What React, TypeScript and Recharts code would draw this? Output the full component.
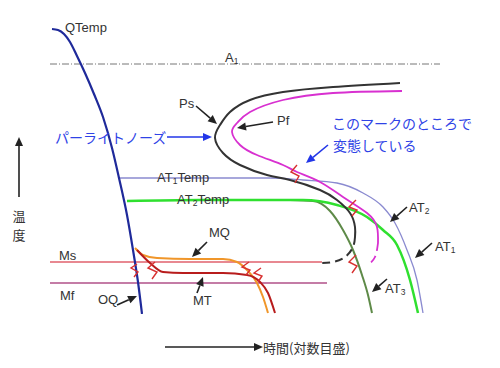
import {
  ComposedChart,
  Line,
  ReferenceDot,
  ReferenceLine,
  XAxis,
  YAxis,
} from "recharts";

// x = log time (arbitrary units), y = temperature (arbitrary units)
const qTemp = [[2, 285], [8, 284], [14, 280], [20, 272], [27, 258], [35, 241], [44, 220], [53, 197], [62, 166], [69, 136], [77, 99], [83, 64], [88, 32], [92, 0]];
const a1Line = [[0, 250], [392, 250]];
const msLine = [[0, 52], [272, 52]];
const mfLine = [[0, 31], [277, 31]];

const psCurve = [[350, 231], [283, 227], [233, 222], [200, 214], [180, 202], [170, 189], [165, 176], [173, 161], [190, 149], [217, 139], [240, 134], [270, 124], [287, 114], [300, 101], [305, 87], [305, 77]];
const psDashed = [[305, 77], [303, 67], [295, 57], [283, 52], [272, 51]];
const pfCurve = [[352, 223], [283, 221], [233, 214], [200, 202], [187, 191], [182, 182], [190, 169], [207, 159], [233, 149], [247, 142], [270, 132], [293, 117], [317, 101], [327, 87], [328, 71]];
const pfDashed = [[328, 71], [325, 57], [318, 49]];

const at1 = [[69, 136], [150, 136], [220, 136], [253, 134], [287, 131], [313, 121], [333, 107], [345, 91], [357, 64], [367, 34], [373, 1]];
const at2 = [[77, 113], [150, 114], [220, 114], [253, 114], [287, 109], [317, 97], [333, 84], [347, 69], [360, 34], [368, 1]];
const at3 = [[240, 114], [263, 113], [280, 103], [293, 84], [303, 64], [312, 39], [318, 19], [322, 1]];
const mq = [[85, 66], [93, 59], [107, 56], [140, 55], [173, 55], [187, 52], [197, 44], [207, 31], [213, 17], [218, 1]];
const mt = [[87, 64], [100, 51], [113, 42], [133, 41], [173, 41], [197, 39], [210, 32], [218, 21], [225, 1]];

// transformation marks
const zigzags = [
  [[247, 149], [241, 142], [249, 138], [245, 131]],
  [[306, 114], [299, 107], [307, 104], [302, 98]],
  [[306, 59], [299, 52], [307, 48], [302, 41]],
  [[87, 50], [81, 46], [88, 42], [84, 37]],
  [[105, 52], [98, 46], [107, 42], [102, 35]],
  [[199, 52], [192, 47], [200, 44], [196, 39]],
  [[211, 46], [204, 41], [212, 38], [208, 32]],
];

// arrows: from -> to
const blackArrows = [
  [[146, 208], [167, 190]],
  [[223, 192], [187, 186]],
  [[157, 72], [142, 57]],
  [[147, 21], [153, 37]],
  [[67, 9], [87, 18]],
  [[357, 107], [340, 92]],
  [[382, 71], [365, 56]],
  [[337, 35], [322, 22]],
  [[-31, 117], [-31, 177]],
  [[115, -33], [213, -33]],
];
const blueArrows = [
  [[117, 177], [162, 177]],
  [[278, 169], [256, 151]],
];

// [text, subscript, tail, x, y]
const labels: [string, string, string, number, number][] = [
  ["QTemp", "", "", 15, 287],
  ["A", "1", "", 175, 257],
  ["Ps", "", "", 129, 211],
  ["Pf", "", "", 227, 194],
  ["AT", "1", "Temp", 107, 137],
  ["AT", "2", "Temp", 127, 115],
  ["MQ", "", "", 159, 82],
  ["MT", "", "", 143, 14],
  ["OQ", "", "", 48, 15],
  ["Ms", "", "", 9, 59],
  ["Mf", "", "", 10, 19],
  ["AT", "2", "", 359, 107],
  ["AT", "1", "", 385, 68],
  ["AT", "3", "", 335, 26],
];
const jpBlue: [string, number, number][] = [
  ["パーライトノーズ", 5, 177],
  ["このマークのところで", 282, 191],
  ["変態している", 283, 169],
];
const jpBlack: [string, number, number, string][] = [
  ["温", -31, 99, "middle"],
  ["度", -31, 80, "middle"],
  ["時間(対数目盛)", 213, -33, "start"],
];

const toPts = (a: number[][]) => a.map(([x, y]) => ({ x, y }));

const LATIN = "'Liberation Sans', Arial, sans-serif";
const JP = "'Noto Sans CJK JP', sans-serif";

function arrowShape(color: string) {
  return (p: any) => {
    const { x1, y1, x2, y2 } = p;
    const a = Math.atan2(y2 - y1, x2 - x1);
    const len = 9;
    const w = 4;
    const bx = x2 - len * Math.cos(a);
    const by = y2 - len * Math.sin(a);
    const px = -Math.sin(a) * w;
    const py = Math.cos(a) * w;
    return (
      <g>
        <line x1={x1} y1={y1} x2={bx} y2={by} stroke={color} strokeWidth={1.6} />
        <polygon points={`${x2},${y2} ${bx + px},${by + py} ${bx - px},${by - py}`} fill={color} />
      </g>
    );
  };
}

function Curve({ data, color, width, dash, type = "monotone" }: any) {
  return (
    <Line
      data={toPts(data)}
      dataKey="y"
      type={type}
      stroke={color}
      strokeWidth={width}
      strokeDasharray={dash}
      dot={false}
      activeDot={false}
      isAnimationActive={false}
      legendType="none"
    />
  );
}

export default function App() {
  return (
    <div style={{ position: "absolute", left: 0, top: 0, background: "#fff" }}>
      <ComposedChart width={500} height={368} margin={{ top: 20, right: 60, bottom: 54, left: 50 }}>
        <XAxis
          type="number"
          dataKey="x"
          domain={[0, 390]}
          allowDataOverflow
          tick={false}
          tickLine={false}
          height={0}
          axisLine={{ stroke: "#333", strokeWidth: 1.5 }}
        />
        <YAxis
          type="number"
          domain={[0, 294]}
          allowDataOverflow
          tick={false}
          tickLine={false}
          width={0}
          axisLine={{ stroke: "#333", strokeWidth: 1.5 }}
        />

        <Curve data={a1Line} color="#777" width={1} dash="7 2 1 2" type="linear" />
        <Curve data={msLine} color="#e0606c" width={1.3} type="linear" />
        <Curve data={mfLine} color="#b05088" width={1.3} type="linear" />

        <Curve data={at1} color="#8a8ad0" width={1.3} />
        <Curve data={at3} color="#5e8a48" width={2} />
        <Curve data={at2} color="#2fe02f" width={2.5} />
        <Curve data={psCurve} color="#333" width={2} type="natural" />
        <Curve data={psDashed} color="#333" width={2} dash="8 5" type="natural" />
        <Curve data={pfCurve} color="#d830d0" width={1.8} type="natural" />
        <Curve data={pfDashed} color="#d830d0" width={1.8} dash="8 5" type="natural" />
        <Curve data={mq} color="#f0962a" width={2} />
        <Curve data={mt} color="#b81c1c" width={2} />
        <Curve data={qTemp} color="#1f2a9a" width={2.2} />

        {zigzags.map((z, i) => (
          <Curve key={`z${i}`} data={z} color="#d83030" width={1.4} type="linear" />
        ))}

        {blackArrows.map(([a, b], i) => (
          <ReferenceLine
            key={`ba${i}`}
            segment={[{ x: a[0], y: a[1] }, { x: b[0], y: b[1] }]}
            ifOverflow="visible"
            shape={arrowShape("#222")}
          />
        ))}
        {blueArrows.map(([a, b], i) => (
          <ReferenceLine
            key={`bl${i}`}
            segment={[{ x: a[0], y: a[1] }, { x: b[0], y: b[1] }]}
            ifOverflow="visible"
            shape={arrowShape("#2236e8")}
          />
        ))}

        {labels.map(([t, sub, tail, x, y], i) => (
          <ReferenceDot
            key={`l${i}`}
            x={x}
            y={y}
            r={0}
            ifOverflow="visible"
            shape={(p: any) => (
              <text x={p.cx} y={p.cy + 4.5} fontFamily={LATIN} fontSize={13} fill="#333">
                <tspan>{t}</tspan>
                {sub && (
                  <tspan fontSize={8.5} dy={2}>
                    {sub}
                  </tspan>
                )}
                {tail && <tspan dy={sub ? -2 : 0}>{tail}</tspan>}
              </text>
            )}
          />
        ))}
        {jpBlue.map(([t, x, y], i) => (
          <ReferenceDot
            key={`jb${i}`}
            x={x}
            y={y}
            r={0}
            ifOverflow="visible"
            shape={(p: any) => (
              <text x={p.cx} y={p.cy} dominantBaseline="central" fontFamily={JP} fontSize={14} fill="#2f43e6">
                {t}
              </text>
            )}
          />
        ))}
        {jpBlack.map(([t, x, y, anchor], i) => (
          <ReferenceDot
            key={`jk${i}`}
            x={x}
            y={y}
            r={0}
            ifOverflow="visible"
            shape={(p: any) => (
              <text
                x={p.cx}
                y={p.cy}
                dominantBaseline="central"
                textAnchor={anchor}
                fontFamily={JP}
                fontSize={13}
                fill="#333"
              >
                {t}
              </text>
            )}
          />
        ))}
      </ComposedChart>
    </div>
  );
}
